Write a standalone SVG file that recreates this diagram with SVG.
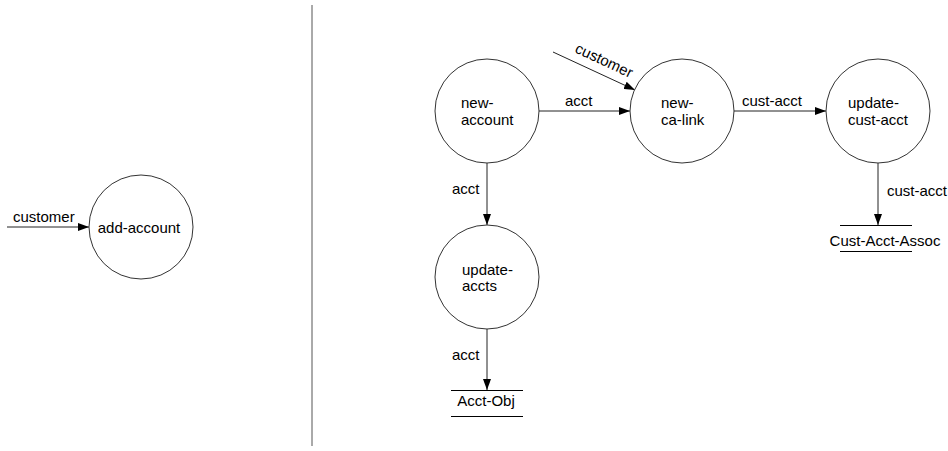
<svg xmlns="http://www.w3.org/2000/svg" width="948" height="451" viewBox="0 0 948 451">
<style>
text{font-family:"Liberation Sans",Arial,sans-serif;font-size:15px;fill:#000}
.c{text-anchor:middle}
.node{fill:#fff;stroke:#333;stroke-width:1}
.edge{stroke:#222;stroke-width:1;fill:none}
.store{stroke:#000;stroke-width:1}
</style>
<defs>
<marker id="ah" viewBox="0 0 11 8" refX="11" refY="4" markerWidth="11" markerHeight="8" markerUnits="userSpaceOnUse" orient="auto">
<path d="M0,0 L11,4 L0,8 z" fill="#000"/>
</marker>
</defs>
<rect width="948" height="451" fill="#fff"/>
<line x1="312" y1="5" x2="312" y2="446" stroke="#555" stroke-width="1"/>
<g id="connectors">
<line class="edge" x1="7" y1="227" x2="89" y2="227" marker-end="url(#ah)"/>
<text x="13" y="222">customer</text>
<line class="edge" x1="539" y1="111" x2="630" y2="111" marker-end="url(#ah)"/>
<text x="565" y="106">acct</text>
<line class="edge" x1="553" y1="52" x2="635" y2="90" marker-end="url(#ah)"/>
<text class="c" transform="translate(602,65) rotate(25)">customer</text>
<line class="edge" x1="734" y1="111" x2="826" y2="111" marker-end="url(#ah)"/>
<text x="742" y="106">cust-acct</text>
<line class="edge" x1="487" y1="163" x2="487" y2="225" marker-end="url(#ah)"/>
<text x="452" y="194">acct</text>
<line class="edge" x1="487" y1="329" x2="487" y2="390" marker-end="url(#ah)"/>
<text x="452" y="360">acct</text>
<line class="edge" x1="878" y1="163" x2="878" y2="225" marker-end="url(#ah)"/>
<text x="887" y="196">cust-acct</text>
</g>
<g id="add-account">
<circle class="node" cx="141" cy="227" r="52"/>
<text class="c" x="139" y="233">add-account</text>
</g>
<g id="new-account">
<circle class="node" cx="487" cy="111" r="52"/>
<text x="461" y="108">new-</text>
<text x="461" y="125">account</text>
</g>
<g id="new-ca-link">
<circle class="node" cx="682" cy="111" r="52"/>
<text x="661" y="108">new-</text>
<text x="661" y="125">ca-link</text>
</g>
<g id="update-cust-acct">
<circle class="node" cx="878" cy="111" r="52"/>
<text x="848" y="108">update-</text>
<text x="848" y="125">cust-acct</text>
</g>
<g id="update-accts">
<circle class="node" cx="487" cy="277" r="52"/>
<text x="462" y="275">update-</text>
<text x="462" y="291">accts</text>
</g>
<g id="Acct-Obj">
<line class="store" x1="451" y1="390.5" x2="523" y2="390.5"/>
<text class="c" x="486" y="406">Acct-Obj</text>
<line class="store" x1="451" y1="416.5" x2="523" y2="416.5"/>
</g>
<g id="Cust-Acct-Assoc">
<line class="store" x1="840" y1="225.5" x2="912" y2="225.5"/>
<text class="c" x="885" y="246">Cust-Acct-Assoc</text>
<line class="store" x1="840" y1="251.5" x2="912" y2="251.5"/>
</g>
</svg>
